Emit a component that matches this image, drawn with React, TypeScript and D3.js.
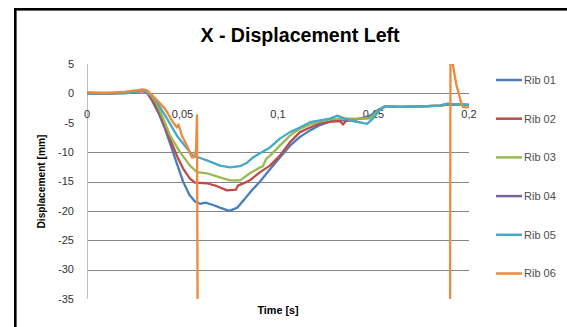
import React from "react";
import * as d3 from "d3";

// Time [s] / displacement [mm] samples for each rib
const rib01: [number, number][] = [
  [0, 0], [0.01, -0.1], [0.02, 0.1], [0.026, 0.3], [0.029, 0.5], [0.0314, 0.1],
  [0.034, -1.2], [0.0372, -3.2], [0.0408, -6.0], [0.044, -9.0], [0.0471, -12.0],
  [0.0503, -15.0], [0.0535, -17.2], [0.0565, -18.4], [0.0592, -18.8], [0.062, -18.6],
  [0.066, -19.0], [0.07, -19.5], [0.0745, -20.0], [0.0785, -19.5], [0.0825, -18.0],
  [0.086, -16.6], [0.0906, -15.0], [0.0958, -12.9], [0.101, -10.9], [0.1063, -8.9],
  [0.1115, -7.4], [0.1168, -6.3], [0.122, -5.4], [0.1272, -4.8], [0.1325, -4.6],
  [0.1377, -4.6], [0.1429, -4.3], [0.1482, -3.8], [0.1524, -2.8], [0.156, -2.2],
  [0.1639, -2.3], [0.1743, -2.2], [0.1848, -2.1], [0.1885, -1.8], [0.2, -1.9],
];

const rib02: [number, number][] = [
  [0, 0], [0.012, 0], [0.022, 0.1], [0.027, 0.3], [0.03, 0.4], [0.0314, 0.2],
  [0.0346, -1.3], [0.0382, -3.5], [0.0435, -7.8], [0.0476, -11.0], [0.0503, -12.8],
  [0.0539, -14.5], [0.0565, -15.2], [0.0628, -15.3], [0.0681, -15.8], [0.0733, -16.5],
  [0.078, -16.4], [0.079, -15.7], [0.0827, -15.2], [0.0853, -14.8], [0.0906, -13.4],
  [0.0958, -12.3], [0.101, -10.6], [0.1063, -8.3], [0.1115, -6.6], [0.1168, -5.8],
  [0.122, -5.1], [0.1272, -4.8], [0.1325, -4.7], [0.134, -5.3], [0.1356, -4.7],
  [0.1377, -4.6], [0.1429, -4.3], [0.1482, -4.2], [0.1524, -3.0], [0.156, -2.3],
  [0.165, -2.3], [0.175, -2.2], [0.185, -2.1], [0.189, -1.9], [0.2, -2.0],
];

const rib03: [number, number][] = [
  [0, 0.1], [0.011, 0], [0.021, 0.2], [0.027, 0.3], [0.03, 0.5], [0.0314, 0.3],
  [0.0346, -0.8], [0.0366, -1.8], [0.0398, -4.2], [0.0435, -7.2], [0.0487, -10.0],
  [0.0539, -12.3], [0.0576, -13.4], [0.0628, -13.6], [0.0696, -14.3], [0.0749, -14.8],
  [0.0801, -14.8], [0.0853, -13.6], [0.0906, -12.6], [0.0921, -12.4], [0.0937, -11.2],
  [0.0958, -10.6], [0.101, -8.9], [0.1063, -7.2], [0.1115, -6.0], [0.1168, -5.3],
  [0.122, -4.8], [0.1272, -4.4], [0.1325, -4.3], [0.1429, -4.3], [0.1482, -4.2],
  [0.1524, -3.0], [0.156, -2.2], [0.166, -2.3], [0.176, -2.2], [0.1855, -2.1],
  [0.189, -1.8], [0.2, -2.0],
];

// no samples recorded for this rib
const rib04: [number, number][] = [];

const rib05: [number, number][] = [
  [0, 0], [0.01, 0.1], [0.02, 0], [0.026, 0.3], [0.029, 0.5], [0.0314, 0.3],
  [0.0346, -0.6], [0.0366, -1.5], [0.0419, -4.3], [0.0471, -7.2], [0.0524, -9.4],
  [0.0555, -10.6], [0.0592, -11.0], [0.0628, -11.4], [0.0696, -12.3], [0.0749, -12.6],
  [0.0801, -12.4], [0.0838, -11.8], [0.0869, -10.9], [0.0906, -10.2], [0.0958, -9.2],
  [0.101, -7.7], [0.1063, -6.6], [0.1115, -5.8], [0.1168, -4.9], [0.122, -4.6],
  [0.1272, -4.3], [0.1309, -3.8], [0.1351, -4.3], [0.1403, -4.8], [0.144, -5.0],
  [0.1466, -5.2], [0.1497, -4.3], [0.1534, -2.8], [0.156, -2.2], [0.165, -2.3],
  [0.175, -2.2], [0.1848, -2.1], [0.1885, -1.8], [0.2, -2.0],
];

const rib06: [number, number][] = [
  [0, 0.2], [0.01, 0.1], [0.02, 0.3], [0.026, 0.5], [0.029, 0.7], [0.0314, 0.5],
  [0.0346, -0.5], [0.0382, -1.7], [0.0408, -2.6], [0.045, -4.9], [0.0471, -5.8],
  [0.0479, -5.3], [0.0497, -7.2], [0.0524, -8.9], [0.0539, -10.2], [0.055, -10.9],
  [0.056, -10.9], [0.0571, -9.6], [0.0576, -3.7], [0.0581, -60], [0.19, -60],
  [0.1904, 30], [0.1915, 5], [0.1933, 1.6], [0.1946, 0.0], [0.1958, -1.5],
  [0.1968, -2.3], [0.1985, -2.4], [0.2, -2.3],
];

const seriesNames = ["Rib 01", "Rib 02", "Rib 03", "Rib 04", "Rib 05", "Rib 06"];
const seriesData = [rib01, rib02, rib03, rib04, rib05, rib06];
const seriesColors = ["#4A7EBB", "#BE4B48", "#98B954", "#7D60A0", "#46AAC5", "#EE8A3C"];

const xTicks = [0, 0.05, 0.1, 0.15, 0.2];
const xTickLabels = ["0", "0,05", "0,1", "0,15", "0,2"];
const yTicks = [5, 0, -5, -10, -15, -20, -25, -30, -35];
const yGridLines = [-10, -15, -20, -25, -30];

const W = 567;
const H = 327;
const plot = { left: 87, right: 469, top: 64, bottom: 299 };
const FONT = "'Liberation Sans', Arial, sans-serif";

export default function App() {
  const x = d3.scaleLinear().domain([0, 0.2]).range([plot.left, plot.right]);
  const y = d3.scaleLinear().domain([-35, 5]).range([plot.bottom, plot.top]);
  const line = d3
    .line<[number, number]>()
    .x((d) => x(d[0]))
    .y((d) => y(d[1]));

  const legendX = 496;
  const legendY0 = 80;
  const legendStep = 38.7;

  return (
    <svg
      width={W}
      height={H}
      style={{ position: "absolute", left: 0, top: 0, display: "block", background: "#fff" }}
    >
      <defs>
        <clipPath id="plotClip">
          <rect
            x={plot.left}
            y={plot.top}
            width={plot.right - plot.left}
            height={plot.bottom - plot.top}
          />
        </clipPath>
      </defs>

      {/* chart frame */}
      <rect x={15.3} y={9.3} width={700} height={500} fill="#fff" stroke="#000" strokeWidth={2.6} />

      {/* title */}
      <text
        x={300}
        y={42}
        textAnchor="middle"
        fontFamily={FONT}
        fontWeight="bold"
        fontSize={19.6}
        fill="#000"
      >
        X - Displacement Left
      </text>

      {/* gridlines */}
      {yGridLines.map((v) => (
        <line
          key={v}
          x1={plot.left}
          x2={plot.right}
          y1={Math.round(y(v)) + 0.5}
          y2={Math.round(y(v)) + 0.5}
          stroke="#868686"
          strokeWidth={1}
        />
      ))}

      {/* value axis */}
      <line
        x1={plot.left + 0.5}
        x2={plot.left + 0.5}
        y1={plot.top}
        y2={plot.bottom}
        stroke="#BFBFBF"
        strokeWidth={1}
      />
      {/* time axis crossing at zero */}
      <line
        x1={plot.left}
        x2={plot.right}
        y1={Math.round(y(0)) + 0.5}
        y2={Math.round(y(0)) + 0.5}
        stroke="#868686"
        strokeWidth={1}
      />

      {/* y tick labels */}
      {yTicks.map((v) => (
        <text
          key={v}
          x={74}
          y={y(v)}
          dy="0.35em"
          textAnchor="end"
          fontFamily={FONT}
          fontSize={11}
          fill="#333"
        >
          {String(v)}
        </text>
      ))}

      {/* x tick labels */}
      {xTicks.map((t, i) => (
        <text
          key={t}
          x={x(t)}
          y={118}
          textAnchor="middle"
          fontFamily={FONT}
          fontSize={11}
          fill="#333"
        >
          {xTickLabels[i]}
        </text>
      ))}

      {/* series */}
      <g clipPath="url(#plotClip)">
        {seriesData.map((data, i) =>
          data.length ? (
            <path
              key={seriesNames[i]}
              d={line(data) || ""}
              fill="none"
              stroke={seriesColors[i]}
              strokeWidth={2.3}
              strokeLinejoin="round"
              strokeLinecap="round"
            />
          ) : null
        )}
      </g>

      {/* axis titles */}
      <text
        x={278}
        y={313.5}
        textAnchor="middle"
        fontFamily={FONT}
        fontWeight="bold"
        fontSize={10.8}
        fill="#000"
      >
        Time [s]
      </text>
      <text
        transform={`translate(44.5, ${(plot.top + plot.bottom) / 2}) rotate(-90)`}
        textAnchor="middle"
        fontFamily={FONT}
        fontWeight="bold"
        fontSize={10.2}
        fill="#000"
      >
        Displacement [mm]
      </text>

      {/* legend */}
      {seriesNames.map((name, i) => {
        const ly = legendY0 + i * legendStep;
        return (
          <g key={name}>
            <line
              x1={legendX}
              x2={legendX + 26}
              y1={ly}
              y2={ly}
              stroke={seriesColors[i]}
              strokeWidth={2.5}
            />
            <text
              x={legendX + 28}
              y={ly}
              dy="0.35em"
              fontFamily={FONT}
              fontSize={11}
              fill="#4D4D4D"
            >
              {name}
            </text>
          </g>
        );
      })}
    </svg>
  );
}
